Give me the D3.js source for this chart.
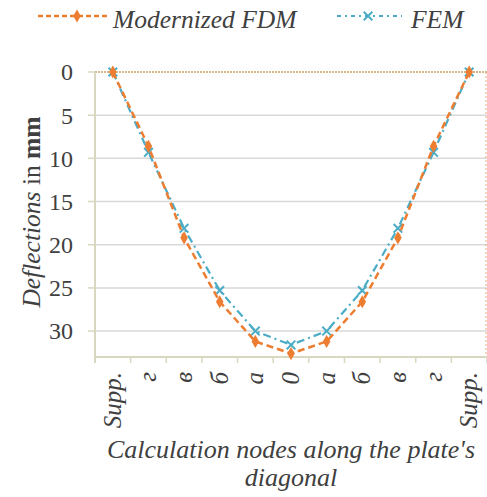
<!DOCTYPE html>
<html><head><meta charset="utf-8">
<script src="https://cdn.jsdelivr.net/npm/d3@7"></script>
<style>
body{margin:0;background:#fff}
svg text, svg tspan{font-family:'Liberation Serif','Times New Roman',Tinos,FreeSerif !important}
</style>
</head><body>
<svg id="c" width="487" height="497"></svg>
<script>
const categories = ["Supp.", "г", "в", "б", "а", "0", "а", "б", "в", "г", "Supp."];
const fdmValues = [0, 8.6, 19.2, 26.6, 31.2, 32.6, 31.2, 26.6, 19.2, 8.6, 0];
const femValues = [0, 9.3, 18.1, 25.3, 30.0, 31.6, 30.0, 25.3, 18.1, 9.3, 0];
const yTicks = [0, 5, 10, 15, 20, 25, 30];
const seriesNames = ["Modernized FDM", "FEM"];

const svg = d3.select("#c");
const L = 95, R = 487, T = 72, B = 357;
const x = d3.scaleBand().domain(d3.range(categories.length)).range([L, R]);
const y = d3.scaleLinear().domain([0, 33]).range([T, B]);
const orange = "#ED7D31", blue = "#4BACC6", txt = "#404040";
const serif = sel => sel.attr("font-family", "Liberation Serif").style("font-family", "'Liberation Serif'");

svg.append("g").selectAll("line").data(yTicks.filter(d => d > 0)).join("line")
  .attr("x1", L).attr("x2", R).attr("y1", d => y(d)).attr("y2", d => y(d))
  .attr("stroke", "#d9d9d9").attr("stroke-width", 1.5);
svg.append("g").selectAll("line").data(yTicks).join("line")
  .attr("x1", L - 7).attr("x2", L).attr("y1", d => y(d)).attr("y2", d => y(d))
  .attr("stroke", "#d8d8c0").attr("stroke-width", 1.5);
svg.append("line").attr("x1", L).attr("x2", R).attr("y1", y(0)).attr("y2", y(0))
  .attr("stroke", "#c8a060").attr("stroke-width", 1.5).attr("stroke-dasharray", "2,1");
svg.append("line").attr("x1", R - 1).attr("x2", R - 1).attr("y1", T).attr("y2", B)
  .attr("stroke", "#e0b070").attr("stroke-width", 1).attr("stroke-dasharray", "2,2");
svg.append("line").attr("x1", L).attr("x2", L).attr("y1", T).attr("y2", B + 6)
  .attr("stroke", "#d8d8c0").attr("stroke-width", 2);
svg.append("line").attr("x1", L).attr("x2", R).attr("y1", B).attr("y2", B)
  .attr("stroke", "#d8d8c0").attr("stroke-width", 2);
svg.append("g").selectAll("line").data(d3.range(categories.length + 1)).join("line")
  .attr("x1", i => i < categories.length ? x(i) : R).attr("x2", i => i < categories.length ? x(i) : R)
  .attr("y1", B).attr("y2", B + 6).attr("stroke", "#d8d8c0").attr("stroke-width", 1.5);

svg.append("g").selectAll("text").data(yTicks).join("text").call(serif)
  .attr("x", 73).attr("y", d => y(d)).attr("dy", "0.35em").attr("text-anchor", "end")
  .attr("font-size", 24).attr("fill", txt).text(d => d);

svg.append("g").selectAll("text").data(categories).join("text").call(serif)
  .attr("transform", (d, i) => `translate(${x(i) + x.bandwidth() / 2 + 8},372) rotate(-90)`)
  .attr("text-anchor", "end").attr("font-size", 25).attr("font-style", "italic")
  .attr("fill", txt).text(d => d);

const yt = svg.append("text").call(serif).attr("transform", "translate(40,212) rotate(-90)")
  .attr("text-anchor", "middle").attr("font-size", 25.5).attr("fill", txt);
yt.append("tspan").attr("font-style", "italic").text("Deflections");
yt.append("tspan").text(" in ");
yt.append("tspan").attr("font-weight", "bold").text("mm");

svg.append("text").call(serif).attr("x", 291).attr("y", 458).attr("text-anchor", "middle")
  .attr("font-size", 26).attr("font-style", "italic").attr("fill", txt)
  .text("Calculation nodes along the plate's");
svg.append("text").call(serif).attr("x", 291).attr("y", 486).attr("text-anchor", "middle")
  .attr("font-size", 26).attr("font-style", "italic").attr("fill", txt)
  .text("diagonal");

const line = d3.line().x((d, i) => x(i) + x.bandwidth() / 2).y(d => y(d));
const diamond = d3.symbol().type(d3.symbolDiamond).size(50);
const cross = d3.symbol().type(d3.symbolTimes).size(50);

svg.append("path").datum(femValues).attr("d", line).attr("fill", "none")
  .attr("stroke", blue).attr("stroke-width", 2.2).attr("stroke-dasharray", "8,4,2,4");
svg.append("g").selectAll("path").data(femValues).join("path")
  .attr("transform", (d, i) => `translate(${x(i) + x.bandwidth() / 2},${y(d)})`)
  .attr("d", cross).attr("fill", "none").attr("stroke", blue).attr("stroke-width", 2);
svg.append("path").datum(fdmValues).attr("d", line).attr("fill", "none")
  .attr("stroke", orange).attr("stroke-width", 2.5).attr("stroke-dasharray", "7,4");
svg.append("g").selectAll("path").data(fdmValues).join("path")
  .attr("transform", (d, i) => `translate(${x(i) + x.bandwidth() / 2},${y(d)})`)
  .attr("d", diamond).attr("fill", orange);

const lg = svg.append("g");
lg.append("line").attr("x1", 38).attr("x2", 107).attr("y1", 16).attr("y2", 16)
  .attr("stroke", orange).attr("stroke-width", 2.5).attr("stroke-dasharray", "5,3");
lg.append("path").attr("transform", "translate(77,16)").attr("d", diamond).attr("fill", orange);
lg.append("text").call(serif).attr("x", 113).attr("y", 28).attr("font-size", 25.5).attr("font-style", "italic")
  .attr("fill", txt).text(seriesNames[0]);
lg.append("line").attr("x1", 337).attr("x2", 402).attr("y1", 16).attr("y2", 16)
  .attr("stroke", blue).attr("stroke-width", 2).attr("stroke-dasharray", "4,4,2,4");
lg.append("path").attr("transform", "translate(368,16)").attr("d", cross).attr("fill", "none")
  .attr("stroke", blue).attr("stroke-width", 2);
lg.append("text").call(serif).attr("x", 411).attr("y", 28).attr("font-size", 25.5).attr("font-style", "italic")
  .attr("fill", txt).text(seriesNames[1]);
</script></body></html>
